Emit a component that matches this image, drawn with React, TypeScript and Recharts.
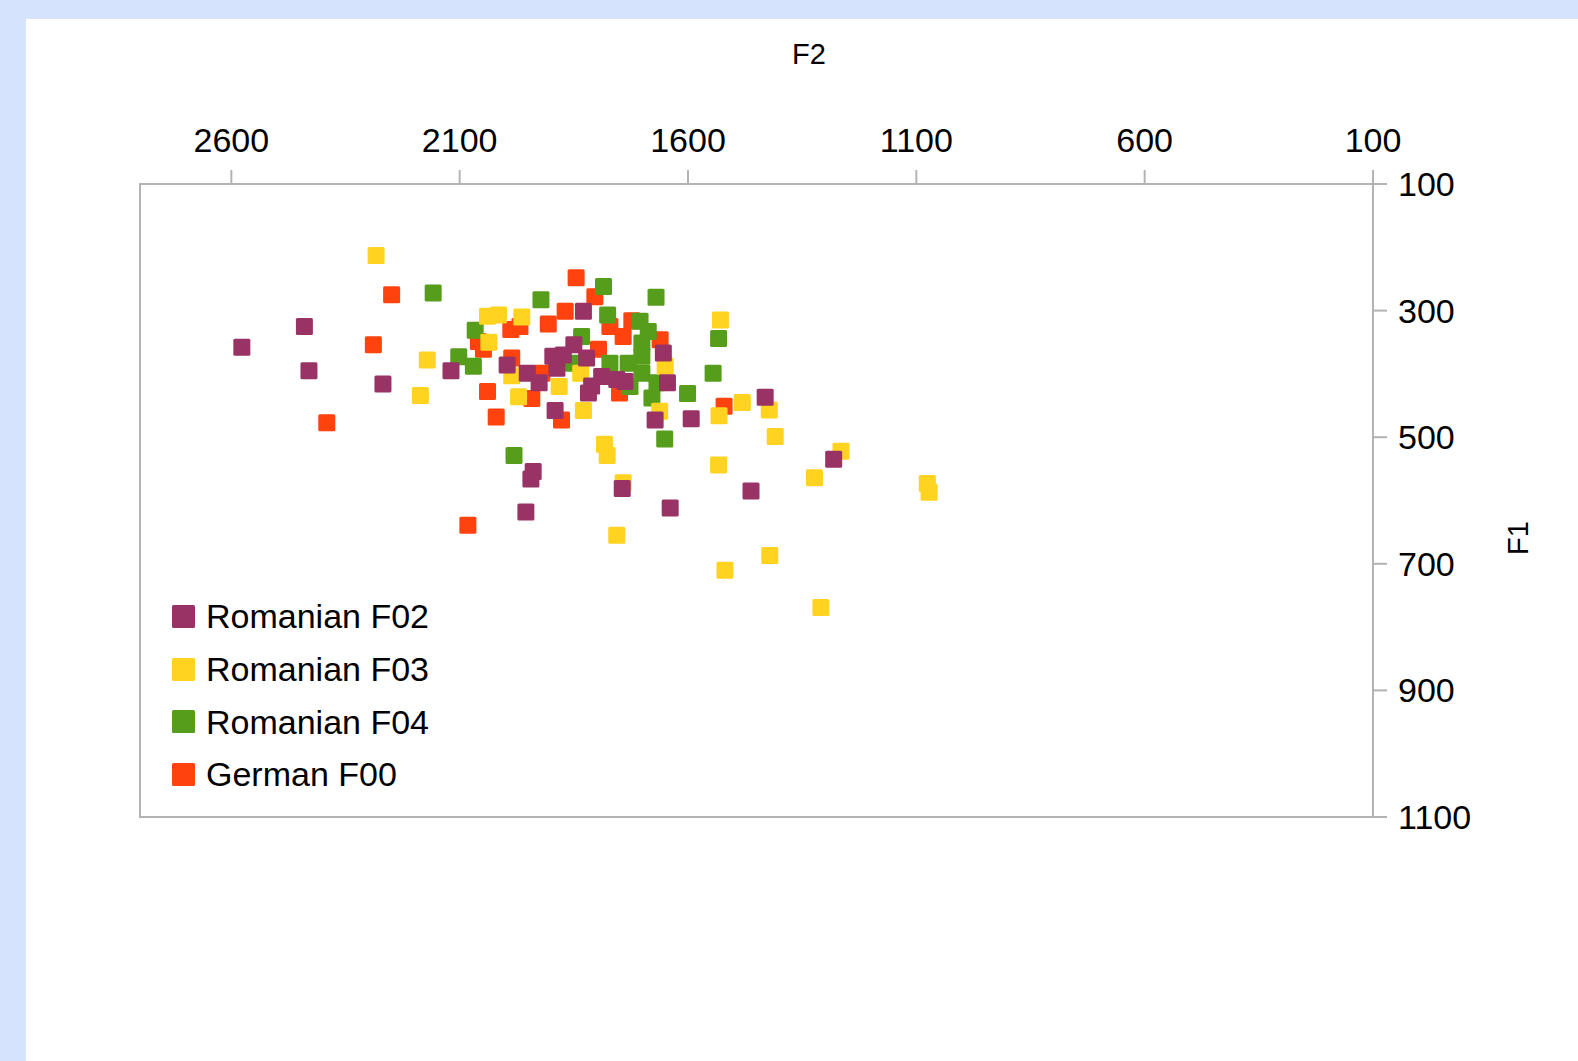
import React from 'react';
import { ScatterChart, Scatter, XAxis, YAxis, ReferenceArea, Legend } from 'recharts';

// formant measurements per speaker: f2 / f1 in Hz
const romanianF02 = [
  { f2: 2577, f1: 358 }, { f2: 2440, f1: 325 }, { f2: 2430, f1: 395 }, { f2: 2268, f1: 416 },
  { f2: 2119, f1: 395 }, { f2: 1996, f1: 386 }, { f2: 1952, f1: 399 }, { f2: 1926, f1: 414 },
  { f2: 1891, f1: 458 }, { f2: 1896, f1: 372 }, { f2: 1873, f1: 370 }, { f2: 1887, f1: 391 },
  { f2: 1850, f1: 354 }, { f2: 1829, f1: 301 }, { f2: 1822, f1: 375 }, { f2: 1789, f1: 404 },
  { f2: 1756, f1: 409 }, { f2: 1738, f1: 412 }, { f2: 1818, f1: 430 }, { f2: 1811, f1: 419 },
  { f2: 1654, f1: 367 }, { f2: 1645, f1: 414 }, { f2: 1672, f1: 473 }, { f2: 1593, f1: 471 },
  { f2: 1431, f1: 437 }, { f2: 1281, f1: 535 }, { f2: 1462, f1: 585 }, { f2: 1639, f1: 612 },
  { f2: 1744, f1: 581 }, { f2: 1944, f1: 566 }, { f2: 1939, f1: 554 }, { f2: 1955, f1: 618 },
];

const romanianF03 = [
  { f2: 2283, f1: 213 }, { f2: 2171, f1: 378 }, { f2: 2186, f1: 434 }, { f2: 2039, f1: 309 },
  { f2: 2015, f1: 307 }, { f2: 1964, f1: 310 }, { f2: 2036, f1: 350 }, { f2: 1986, f1: 403 },
  { f2: 1971, f1: 436 }, { f2: 1882, f1: 420 }, { f2: 1835, f1: 399 }, { f2: 1829, f1: 458 },
  { f2: 1650, f1: 388 }, { f2: 1662, f1: 459 }, { f2: 1529, f1: 315 }, { f2: 1481, f1: 445 },
  { f2: 1422, f1: 457 }, { f2: 1532, f1: 466 }, { f2: 1409, f1: 499 }, { f2: 1783, f1: 511 },
  { f2: 1777, f1: 529 }, { f2: 1742, f1: 572 }, { f2: 1533, f1: 544 }, { f2: 1265, f1: 522 },
  { f2: 1323, f1: 564 }, { f2: 1076, f1: 573 }, { f2: 1072, f1: 587 }, { f2: 1756, f1: 655 },
  { f2: 1421, f1: 687 }, { f2: 1519, f1: 710 }, { f2: 1309, f1: 769 },
];

const romanianF04 = [
  { f2: 2158, f1: 272 }, { f2: 2066, f1: 331 }, { f2: 2102, f1: 373 }, { f2: 2070, f1: 388 },
  { f2: 1981, f1: 529 }, { f2: 1922, f1: 283 }, { f2: 1785, f1: 262 }, { f2: 1776, f1: 307 },
  { f2: 1670, f1: 279 }, { f2: 1833, f1: 341 }, { f2: 1851, f1: 383 }, { f2: 1771, f1: 383 },
  { f2: 1731, f1: 383 }, { f2: 1705, f1: 317 }, { f2: 1687, f1: 333 }, { f2: 1701, f1: 351 },
  { f2: 1701, f1: 372 }, { f2: 1701, f1: 399 }, { f2: 1727, f1: 420 }, { f2: 1668, f1: 414 },
  { f2: 1679, f1: 438 }, { f2: 1651, f1: 503 }, { f2: 1601, f1: 431 }, { f2: 1545, f1: 399 },
  { f2: 1533, f1: 344 },
];

const germanF00 = [
  { f2: 2249, f1: 275 }, { f2: 2289, f1: 354 }, { f2: 2391, f1: 477 }, { f2: 2082, f1: 639 },
  { f2: 2059, f1: 349 }, { f2: 2048, f1: 361 }, { f2: 2039, f1: 428 }, { f2: 2020, f1: 468 },
  { f2: 1988, f1: 330 }, { f2: 1968, f1: 325 }, { f2: 1986, f1: 375 }, { f2: 1942, f1: 439 },
  { f2: 1906, f1: 321 }, { f2: 1869, f1: 301 }, { f2: 1845, f1: 248 }, { f2: 1804, f1: 278 },
  { f2: 1771, f1: 325 }, { f2: 1742, f1: 341 }, { f2: 1723, f1: 316 }, { f2: 1661, f1: 346 },
  { f2: 1796, f1: 361 }, { f2: 1877, f1: 473 }, { f2: 1750, f1: 430 }, { f2: 1521, f1: 451 },
  { f2: 1920, f1: 399 },
];

const f2Ticks = [2600, 2100, 1600, 1100, 600, 100];
const f1Ticks = [100, 300, 500, 700, 900, 1100];

const series = [
  { name: 'Romanian F02', color: '#993366', data: romanianF02 },
  { name: 'Romanian F03', color: '#ffd320', data: romanianF03 },
  { name: 'Romanian F04', color: '#579d1c', data: romanianF04 },
  { name: 'German F00', color: '#ff420e', data: germanF00 },
];

const FONT = '"Liberation Sans", Arial, sans-serif';
const GRID = '#b3b3b3';

const SquareMarker = (props: any) => {
  const { cx, cy, fill } = props;
  if (cx == null || cy == null) return null;
  return <rect x={cx - 8.5} y={cy - 8.5} width={17} height={17} rx={1.5} fill={fill} />;
};

const AxisTitle = (props: any) => {
  const { tx, ty, text, rotate } = props;
  return (
    <text
      x={tx}
      y={ty}
      textAnchor="middle"
      dominantBaseline="central"
      fontSize={29}
      fontFamily={FONT}
      fill="#000"
      transform={rotate ? `rotate(-90, ${tx}, ${ty})` : undefined}
    >
      {text}
    </text>
  );
};

const renderLegend = () => (
  <div style={{ fontFamily: FONT }}>
    {series.map((s) => (
      <div key={s.name} style={{ display: 'flex', alignItems: 'center', height: 52.7 }}>
        <span
          style={{
            display: 'inline-block',
            width: 23,
            height: 23,
            background: s.color,
            borderRadius: 1.5,
            marginRight: 11,
          }}
        />
        <span style={{ fontSize: 34, color: '#000', lineHeight: 1 }}>{s.name}</span>
      </div>
    ))}
  </div>
);

export default function App() {
  return (
    <div
      style={{
        position: 'absolute',
        left: 0,
        top: 0,
        width: 1578,
        height: 1061,
        background: '#d5e4fc',
      }}
    >
      <div style={{ position: 'absolute', left: 26, top: 19, width: 1552, height: 1042, background: '#fff' }}>
        <ScatterChart width={1552} height={1042} margin={{ top: 115, right: 105, bottom: 244, left: 114 }}>
          <ReferenceArea x1={100} x2={2800} y1={100} y2={1100} fill="none" stroke={GRID} strokeWidth={2} />
          <XAxis
            type="number"
            dataKey="f2"
            orientation="top"
            reversed
            domain={[100, 2800]}
            ticks={f2Ticks}
            interval={0}
            allowDataOverflow
            height={50}
            stroke={GRID}
            axisLine={{ stroke: GRID, strokeWidth: 2 }}
            tickLine={{ stroke: GRID, strokeWidth: 2 }}
            tickSize={14}
            tickMargin={18}
            tick={{ fill: '#000', fontSize: 34, fontFamily: FONT }}
            label={<AxisTitle tx={783} ty={35} text="F2" />}
          />
          <YAxis
            type="number"
            dataKey="f1"
            orientation="right"
            reversed
            domain={[100, 1100]}
            ticks={f1Ticks}
            interval={0}
            allowDataOverflow
            width={100}
            stroke={GRID}
            axisLine={{ stroke: GRID, strokeWidth: 2 }}
            tickLine={{ stroke: GRID, strokeWidth: 2 }}
            tickSize={14}
            tickMargin={11}
            tick={{ fill: '#000', fontSize: 34, fontFamily: FONT }}
            label={<AxisTitle tx={1492} ty={519} text="F1" rotate />}
          />
          <Legend
            layout="vertical"
            align="center"
            verticalAlign="middle"
            wrapperStyle={{ left: 146, top: 571, width: 'auto' }}
            content={renderLegend}
          />
          {[...series].reverse().map((s) => (
            <Scatter
              key={s.name}
              name={s.name}
              data={s.data}
              fill={s.color}
              shape={<SquareMarker />}
              isAnimationActive={false}
            />
          ))}
        </ScatterChart>
      </div>
    </div>
  );
}
